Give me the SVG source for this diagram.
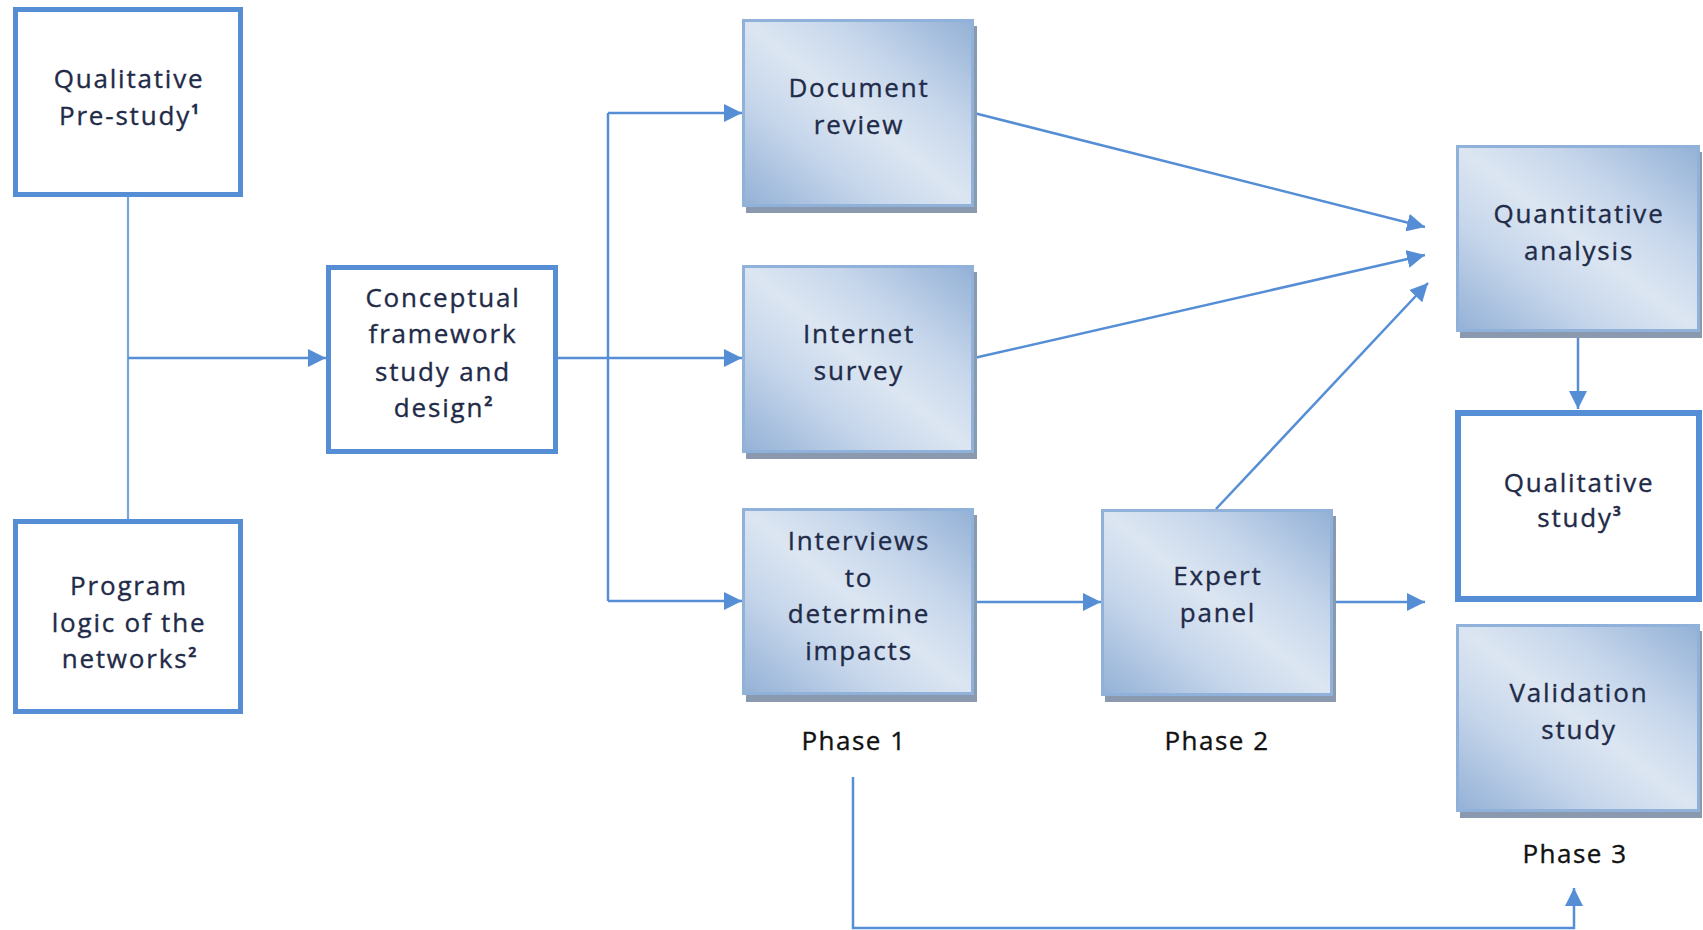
<svg xmlns="http://www.w3.org/2000/svg" width="1703" height="930" viewBox="0 0 1703 930">
<style>
.t{font-family:"Open Sans","Noto Sans","Liberation Sans",sans-serif;font-size:26px;letter-spacing:1.8px;fill:#1f2b48;stroke:#1f2b48;stroke-width:0.35;text-anchor:middle}
.ph{fill:#111111;stroke:#111111;letter-spacing:1.5px}
.sup{font-size:14px;font-weight:bold;letter-spacing:0}
.thick{fill:#ffffff;stroke:#558ed5;stroke-width:5}
.grad{fill:url(#g);stroke:#8fb1da;stroke-width:3}
.shadow{fill:#8a99ad}
.c{fill:none;stroke:#558ed5;stroke-width:2.5}
.cl{fill:none;stroke:#7aa3db;stroke-width:2.2}
.a{marker-end:url(#arr)}
</style>
<defs>
<linearGradient id="g" x1="0" y1="1" x2="1" y2="0">
<stop offset="0" stop-color="#93b1d6"/>
<stop offset="0.3" stop-color="#c6d6eb"/>
<stop offset="0.5" stop-color="#dce6f2"/>
<stop offset="0.7" stop-color="#c6d6eb"/>
<stop offset="1" stop-color="#93b1d6"/>
</linearGradient>
<marker id="arr" markerUnits="userSpaceOnUse" markerWidth="19" markerHeight="18" refX="18" refY="9" orient="auto">
<path d="M0,0 L18,9 L0,18 z" fill="#558ed5"/>
</marker>
</defs>

<g id="connectors">
<path class="cl" d="M128,197 L128,519"/>
<path class="c a" d="M128,358 L326,358"/>
<path class="c" d="M608,113 L608,601"/>
<path class="c a" d="M558,358 L742,358"/>
<path class="c a" d="M608,113 L742,113"/>
<path class="c a" d="M608,601 L742,601"/>
<path class="c a" d="M974,113 L1425,227"/>
<path class="c a" d="M974,358 L1425,255"/>
<path class="c a" d="M1216,509 L1428,283"/>
<path class="c a" d="M1578,332 L1578,409"/>
<path class="c a" d="M974,602 L1101,602"/>
<path class="c a" d="M1333,602 L1425,602"/>
<path class="c a" d="M853,777 L853,928 L1574,928 L1574,888"/>
</g>

<g id="qualitative-prestudy">
<rect class="thick" x="15.5" y="9.5" width="225" height="185"/>
<text class="t" x="129" y="88">Qualitative</text>
<text class="t" x="129" y="125">Pre-study<tspan class="sup" dy="-11">1</tspan></text>
</g>

<g id="program-logic">
<rect class="thick" x="15.5" y="521.5" width="225" height="190"/>
<text class="t" x="129" y="595">Program</text>
<text class="t" x="129" y="632">logic of the</text>
<text class="t" x="129" y="668">networks<tspan class="sup" dy="-11">2</tspan></text>
</g>

<g id="conceptual-framework">
<rect class="thick" x="328.5" y="267.5" width="227" height="184"/>
<text class="t" x="443" y="307">Conceptual</text>
<text class="t" x="443" y="343">framework</text>
<text class="t" x="443" y="381">study and</text>
<text class="t" x="443" y="417">design<tspan class="sup" dy="-11">2</tspan></text>
</g>

<g id="document-review">
<rect class="shadow" x="746" y="26" width="231" height="187"/>
<rect class="grad" x="743.5" y="20.5" width="229" height="185"/>
<text class="t" x="859" y="97">Document</text>
<text class="t" x="859" y="134">review</text>
</g>

<g id="internet-survey">
<rect class="shadow" x="746" y="272" width="231" height="187"/>
<rect class="grad" x="743.5" y="266.5" width="229" height="185"/>
<text class="t" x="859" y="343">Internet</text>
<text class="t" x="859" y="380">survey</text>
</g>

<g id="interviews">
<rect class="shadow" x="746" y="515" width="231" height="187"/>
<rect class="grad" x="743.5" y="509.5" width="229" height="184"/>
<text class="t" x="859" y="550">Interviews</text>
<text class="t" x="859" y="587">to</text>
<text class="t" x="859" y="623">determine</text>
<text class="t" x="859" y="660">impacts</text>
</g>

<g id="expert-panel">
<rect class="shadow" x="1105" y="516" width="231" height="186"/>
<rect class="grad" x="1102.5" y="510.5" width="229" height="184"/>
<text class="t" x="1218" y="585">Expert</text>
<text class="t" x="1218" y="622">panel</text>
</g>

<g id="quantitative-analysis">
<rect class="shadow" x="1460" y="152" width="242" height="186"/>
<rect class="grad" x="1457.5" y="146.5" width="241" height="184"/>
<text class="t" x="1579" y="223">Quantitative</text>
<text class="t" x="1579" y="260">analysis</text>
</g>

<g id="qualitative-study">
<rect class="thick" x="1458" y="413" width="241" height="186" style="stroke-width:6"/>
<text class="t" x="1579" y="492">Qualitative</text>
<text class="t" x="1579" y="527">study<tspan class="sup" dy="-11">3</tspan></text>
</g>

<g id="validation-study">
<rect class="shadow" x="1460" y="631" width="242" height="187"/>
<rect class="grad" x="1457.5" y="625.5" width="241" height="185"/>
<text class="t" x="1579" y="702">Validation</text>
<text class="t" x="1579" y="739">study</text>
</g>

<g id="phase-labels">
<text class="t ph" x="854" y="750">Phase 1</text>
<text class="t ph" x="1217" y="750">Phase 2</text>
<text class="t ph" x="1575" y="863">Phase 3</text>
</g>
</svg>
